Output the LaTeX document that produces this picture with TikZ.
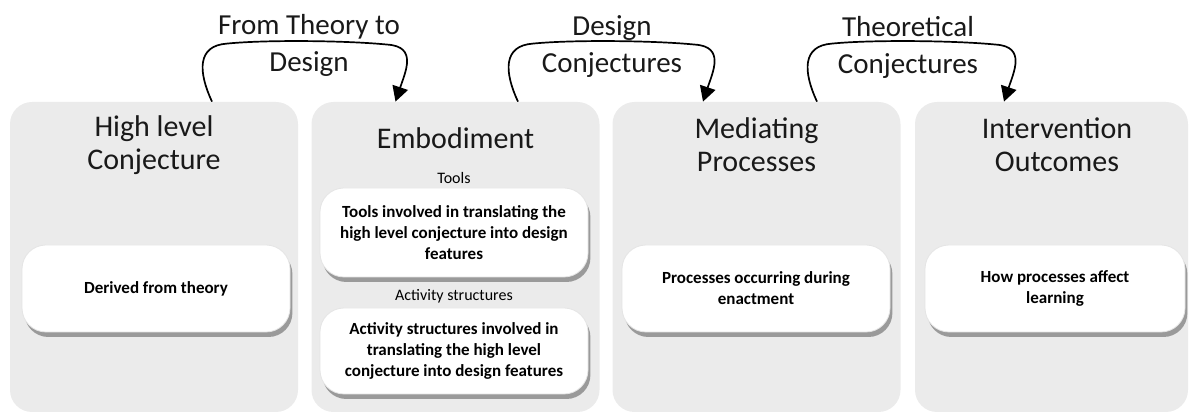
\documentclass[tikz,border=0pt]{standalone}
\usepackage{fontspec}
\setmainfont{Carlito}
\usepackage{tikz}
\usetikzlibrary{arrows.meta,calc,shadows}

\begin{document}
\begin{tikzpicture}[x=0.5pt,y=-0.5pt,
        panel/.style={fill=black!8,rounded corners=11pt,minimum width=144pt,minimum height=155pt,inner sep=0pt},
        card/.style={fill=white,draw=black!10,rounded corners=12pt,minimum width=134pt,minimum height=43.5pt,
            align=center,inner sep=0pt,font=\fontsize{8.5}{10.5}\selectfont\bfseries,
            drop shadow={shadow xshift=1.2pt,shadow yshift=-2.5pt,opacity=.75}},
        heading/.style={align=center,text=black!90,font=\fontsize{15}{16.5}\selectfont},
        caption/.style={font=\fontsize{8}{10}\selectfont},
        conjlabel/.style={align=center,text=black!90,font=\fontsize{14.5}{18.5}\selectfont},
        conj/.style={line width=0.85pt,-{Triangle[length=7.5pt,width=8pt]}}]
    \useasboundingbox (0,0) rectangle (1189,416);

    \node[panel] (p1) at (154,257) {};
    \node[panel] (p2) at (455.5,257) {};
    \node[panel] (p3) at (756.5,257) {};
    \node[panel,minimum width=136.5pt] (p4) at (1051.5,257) {};

    \node[heading] (t1) at (154,145) {High level\\Conjecture};
    \node[heading] (t2) at (455.5,138) {Embodiment};
    \node[heading] (t3) at (756.5,145) {Mediating\\Processes};
    \node[heading] (t4) at (1057,145) {Intervention\\Outcomes};

    \node[card] (derived) at (156,288.5) {Derived from theory};
    \node[caption] (toolcap) at (454,178) {Tools};
    \node[card,minimum height=44.5pt] (tools) at (454,232.5)
        {Tools involved in translating the\\high level conjecture into design\\features};
    \node[caption] (actcap) at (454,296) {Activity structures};
    \node[card,minimum height=43pt] (activity) at (454,351)
        {Activity structures involved in\\translating the high level\\conjecture into design features};
    \node[card] (processes) at (756,288.5) {Processes occurring during\\enactment};
    \node[card,minimum width=130pt] (learning) at (1055,288.5) {How processes affect\\learning};

    \node[conjlabel] (lab1) at (309,45) {From Theory to\\Design};
    \node[conjlabel] (lab2) at (612,47) {Design\\Conjectures};
    \node[conjlabel] (lab3) at (908,47) {Theoretical\\Conjectures};

    \coordinate (s1) at ($(p1.north)+(58,0)$);
    \coordinate (e1) at ($(p2.north)+(-60,0)$);
    \coordinate (s2) at ($(p2.north)+(62.5,0)$);
    \coordinate (e2) at ($(p3.north)+(-53.5,0)$);
    \coordinate (s3) at ($(p3.north)+(60.5,0)$);
    \coordinate (e3) at ($(p4.north)+(-47.5,0)$);
    \foreach \i in {1,2,3}
        \draw[conj] (s\i) .. controls +(-14,-30) and +(-30,2) .. ($(s\i)+(15,-58)$)
            .. controls +(40,-4) and +(-40,-4) .. ($(e\i)+(-8,-57)$)
            .. controls +(30,2) and +(10,-30) .. (e\i);
\end{tikzpicture}
\end{document}
